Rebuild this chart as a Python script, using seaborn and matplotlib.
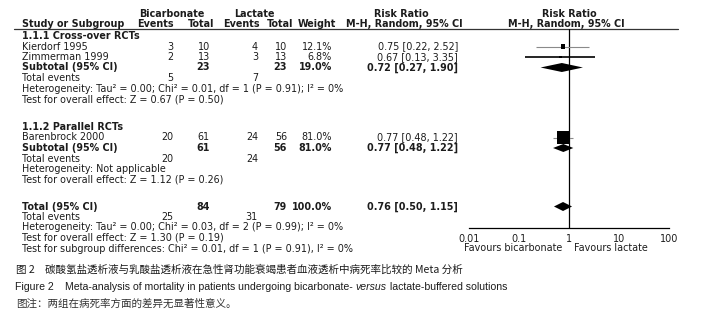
import matplotlib
matplotlib.use("Agg")
import matplotlib.pyplot as plt
from matplotlib.ticker import NullLocator, FixedLocator, FixedFormatter
from matplotlib.textpath import TextPath
from matplotlib.font_manager import FontProperties
import seaborn as sns
import pandas as pd

# ---------------- data ----------------
studies = ["Kierdorf 1995", "Zimmerman 1999", "Barenbrock 2000"]
study_group = [0, 0, 1]
bic_events = [3, 2, 20]
bic_total = [10, 13, 61]
lac_events = [4, 3, 24]
lac_total = [10, 13, 56]
weights = [12.1, 6.8, 81.0]
rr = [0.75, 0.67, 0.77]
rr_lo = [0.22, 0.13, 0.48]
rr_hi = [2.52, 3.35, 1.22]

group_titles = ["1.1.1 Cross-over RCTs", "1.1.2 Parallel RCTs"]
sub_bic_total = [23, 61]
sub_lac_total = [23, 56]
sub_weight = [19.0, 81.0]
sub_rr = [0.72, 0.77]
sub_lo = [0.27, 0.48]
sub_hi = [1.90, 1.22]
sub_bic_events = [5, 20]
sub_lac_events = [7, 24]
sub_het = ["Heterogeneity: Tau\u00b2 = 0.00; Chi\u00b2 = 0.01, df = 1 (P = 0.91); I\u00b2 = 0%",
           "Heterogeneity: Not applicable"]
sub_test = ["Test for overall effect: Z = 0.67 (P = 0.50)",
            "Test for overall effect: Z = 1.12 (P = 0.26)"]

tot_bic_total, tot_lac_total, tot_weight = 84, 79, 100.0
tot_rr, tot_lo, tot_hi = 0.76, 0.50, 1.15
tot_bic_events, tot_lac_events = 25, 31
tot_het = "Heterogeneity: Tau\u00b2 = 0.00; Chi\u00b2 = 0.03, df = 2 (P = 0.99); I\u00b2 = 0%"
tot_test = "Test for overall effect: Z = 1.30 (P = 0.19)"
tot_sub = "Test for subgroup differences: Chi\u00b2 = 0.01, df = 1 (P = 0.91), I\u00b2 = 0%"

axis_ticks = [0.01, 0.1, 1, 10, 100]
axis_labels = ["0.01", "0.1", "1", "10", "100"]
favours_left = "Favours bicarbonate"
favours_right = "Favours lactate"

cap_cn_num = "图 2"
cap_cn = "碳酸氢盐透析液与乳酸盐透析液在急性肾功能衰竭患者血液透析中病死率比较的 Meta 分析"
cap_en_num = "Figure 2"
cap_en_a = "Meta-analysis of mortality in patients undergoing bicarbonate- "
cap_en_b = "versus"
cap_en_c = " lactate-buffered solutions"
cap_note = "图注：两组在病死率方面的差异无显著性意义。"

# ---------------- style ----------------
sns.set_style("white")
BODY = 'DejaVu Sans'
plt.rcParams['font.family'] = [BODY, 'Liberation Sans']
TXT = "#1c1c1c"
CJK = ['Noto Sans CJK SC', 'Liberation Sans']
CAP_LAT = ['Liberation Sans', 'DejaVu Sans']

# body font size chosen so the heterogeneity line spans ~321 px like the reference
_w = TextPath((0, 0), sub_het[0], size=10, prop=FontProperties(family=BODY)).get_extents().width
FS = 10 * (321 * 72 / 100) / _w

W, H = 706, 315
fig = plt.figure(figsize=(W / 100, H / 100), dpi=100)
tax = fig.add_axes([0, 0, 1, 1])
tax.set_xlim(0, W)
tax.set_ylim(H, 0)
tax.axis('off')

AX_L, AX_R, AX_TOP, AX_BOT = 469, 669, 29, 228
fax = fig.add_axes([AX_L / W, 1 - AX_BOT / H, (AX_R - AX_L) / W, (AX_BOT - AX_TOP) / H])
fax.set_xscale('log')
fax.set_xlim(axis_ticks[0], axis_ticks[-1])
fax.set_ylim(AX_BOT, AX_TOP)
fax.patch.set_alpha(0)

# ---------------- row layout (pixel rows) ----------------
STEP = 10.5
group_start = [36, 127]
X_LAB, X_BE, X_BT, X_LE, X_LT, X_W, X_RR = 22, 173, 210, 258, 287, 332, 458


def txt(x, y, s, ha='left', bold=False, fs=None, **kw):
    tax.text(x, y, s, ha=ha, va='center', fontsize=FS if fs is None else fs, color=TXT,
             fontweight='bold' if bold else 'normal', **kw)


def fmt_rr(a, b, c):
    return f"{a:.2f} [{b:.2f}, {c:.2f}]"


# headers
txt(172, 14, "Bicarbonate", ha='center', bold=True)
txt(254, 14, "Lactate", ha='center', bold=True)
txt(401, 14, "Risk Ratio", ha='center', bold=True)
txt(569, 14, "Risk Ratio", ha='center', bold=True)
txt(X_LAB, 24, "Study or Subgroup", bold=True)
txt(155, 24, "Events", ha='center', bold=True)
txt(201, 24, "Total", ha='center', bold=True)
txt(241, 24, "Events", ha='center', bold=True)
txt(280, 24, "Total", ha='center', bold=True)
txt(317, 24, "Weight", ha='center', bold=True)
txt(404, 24, "M-H, Random, 95% CI", ha='center', bold=True)
txt(566, 24, "M-H, Random, 95% CI", ha='center', bold=True)
tax.plot([14, 678], [29, 29], color="#333333", lw=0.9)

study_y = []
sub_y = []
for g in range(2):
    y = group_start[g]
    txt(X_LAB, y, group_titles[g], bold=True)
    for i, s in enumerate(studies):
        if study_group[i] != g:
            continue
        y += STEP
        study_y.append(y)
        txt(X_LAB, y, s)
        txt(X_BE, y, str(bic_events[i]), ha='right')
        txt(X_BT, y, str(bic_total[i]), ha='right')
        txt(X_LE, y, str(lac_events[i]), ha='right')
        txt(X_LT, y, str(lac_total[i]), ha='right')
        txt(X_W, y, f"{weights[i]:.1f}%", ha='right')
        txt(X_RR, y, fmt_rr(rr[i], rr_lo[i], rr_hi[i]), ha='right')
    y += STEP
    sub_y.append(y)
    txt(X_LAB, y, "Subtotal (95% CI)", bold=True)
    txt(X_BT, y, str(sub_bic_total[g]), ha='right', bold=True)
    txt(X_LT, y, str(sub_lac_total[g]), ha='right', bold=True)
    txt(X_W, y, f"{sub_weight[g]:.1f}%", ha='right', bold=True)
    txt(X_RR, y, fmt_rr(sub_rr[g], sub_lo[g], sub_hi[g]), ha='right', bold=True)
    y += STEP
    txt(X_LAB, y, "Total events")
    txt(X_BE, y, str(sub_bic_events[g]), ha='right')
    txt(X_LE, y, str(sub_lac_events[g]), ha='right')
    y += STEP
    txt(X_LAB, y, sub_het[g])
    y += STEP
    txt(X_LAB, y, sub_test[g])

y = 206.5
tot_y = y
txt(X_LAB, y, "Total (95% CI)", bold=True)
txt(X_BT, y, str(tot_bic_total), ha='right', bold=True)
txt(X_LT, y, str(tot_lac_total), ha='right', bold=True)
txt(X_W, y, f"{tot_weight:.1f}%", ha='right', bold=True)
txt(X_RR, y, fmt_rr(tot_rr, tot_lo, tot_hi), ha='right', bold=True)
y += STEP
txt(X_LAB, y, "Total events")
txt(X_BE, y, str(tot_bic_events), ha='right')
txt(X_LE, y, str(tot_lac_events), ha='right')
y += STEP
txt(X_LAB, y, tot_het)
y += STEP
txt(X_LAB, y, tot_test)
y += STEP
txt(X_LAB, y, tot_sub)

txt(562, 248, favours_left, ha='right')
txt(574, 248, favours_right, ha='left')

# ---------------- forest plot ----------------
df = pd.DataFrame({"study": studies, "rr": rr, "lo": rr_lo, "hi": rr_hi,
                   "weight": weights, "y": study_y})
ci_colors = ["#8a8a8a", "#000000", "#8a8a8a"]
ci_lw = [0.8, 1.2, 0.8]
for i, r in df.iterrows():
    fax.plot([r.lo, r.hi], [r.y, r.y], color=ci_colors[i], lw=ci_lw[i],
             solid_capstyle='butt', zorder=2)
sns.scatterplot(data=df, x="rr", y="y", size="weight", sizes=(3, 90),
                size_norm=(min(weights), max(weights)), marker="s",
                color="black", linewidth=0, legend=False, ax=fax, zorder=3)


def diamond(est, lo, hi, yc, h):
    fax.fill([lo, est, hi, est], [yc, yc - h, yc, yc + h], color="black",
             lw=0, zorder=3)


diamond(sub_rr[0], sub_lo[0], sub_hi[0], sub_y[0], 4.5)
diamond(sub_rr[1], sub_lo[1], sub_hi[1], sub_y[1], 4.0)
diamond(tot_rr, tot_lo, tot_hi, tot_y, 4.5)

fax.axvline(1, color="black", lw=0.9, zorder=1)
for sp in ["top", "right", "left"]:
    fax.spines[sp].set_visible(False)
fax.spines["bottom"].set_color("black")
fax.spines["bottom"].set_linewidth(0.9)
fax.set_xlabel("")
fax.set_ylabel("")
fax.set_yticks([])
fax.xaxis.set_major_locator(FixedLocator(axis_ticks))
fax.xaxis.set_major_formatter(FixedFormatter(axis_labels))
fax.xaxis.set_minor_locator(NullLocator())
fax.tick_params(axis='x', direction='inout', length=6, width=0.9, pad=1.5,
                labelsize=FS, colors=TXT)

# ---------------- captions ----------------
CFS = 7.6
tax.text(16, 270, cap_cn_num, ha='left', va='center', fontsize=CFS, color=TXT, family=CJK)
tax.text(45, 270, cap_cn, ha='left', va='center', fontsize=CFS, color=TXT, family=CJK)
tax.text(15, 287, cap_en_num, ha='left', va='center', fontsize=CFS, color=TXT, family=CAP_LAT)
t1 = tax.text(65, 287, cap_en_a, ha='left', va='center', fontsize=CFS, color=TXT, family=CAP_LAT)
fig.canvas.draw()
r = fig.canvas.get_renderer()
inv = tax.transData.inverted()
bb = t1.get_window_extent(r)
x2 = inv.transform((bb.x1, bb.y0))[0]
t2 = tax.text(x2, 287, cap_en_b, ha='left', va='center', fontsize=CFS, color=TXT,
              style='italic', family=CAP_LAT)
bb = t2.get_window_extent(r)
x3 = inv.transform((bb.x1, bb.y0))[0]
tax.text(x3, 287, cap_en_c, ha='left', va='center', fontsize=CFS, color=TXT, family=CAP_LAT)
tax.text(16, 304, cap_note, ha='left', va='center', fontsize=CFS, color="#333333", family=CJK)

fig.savefig("out.png", dpi=100)
